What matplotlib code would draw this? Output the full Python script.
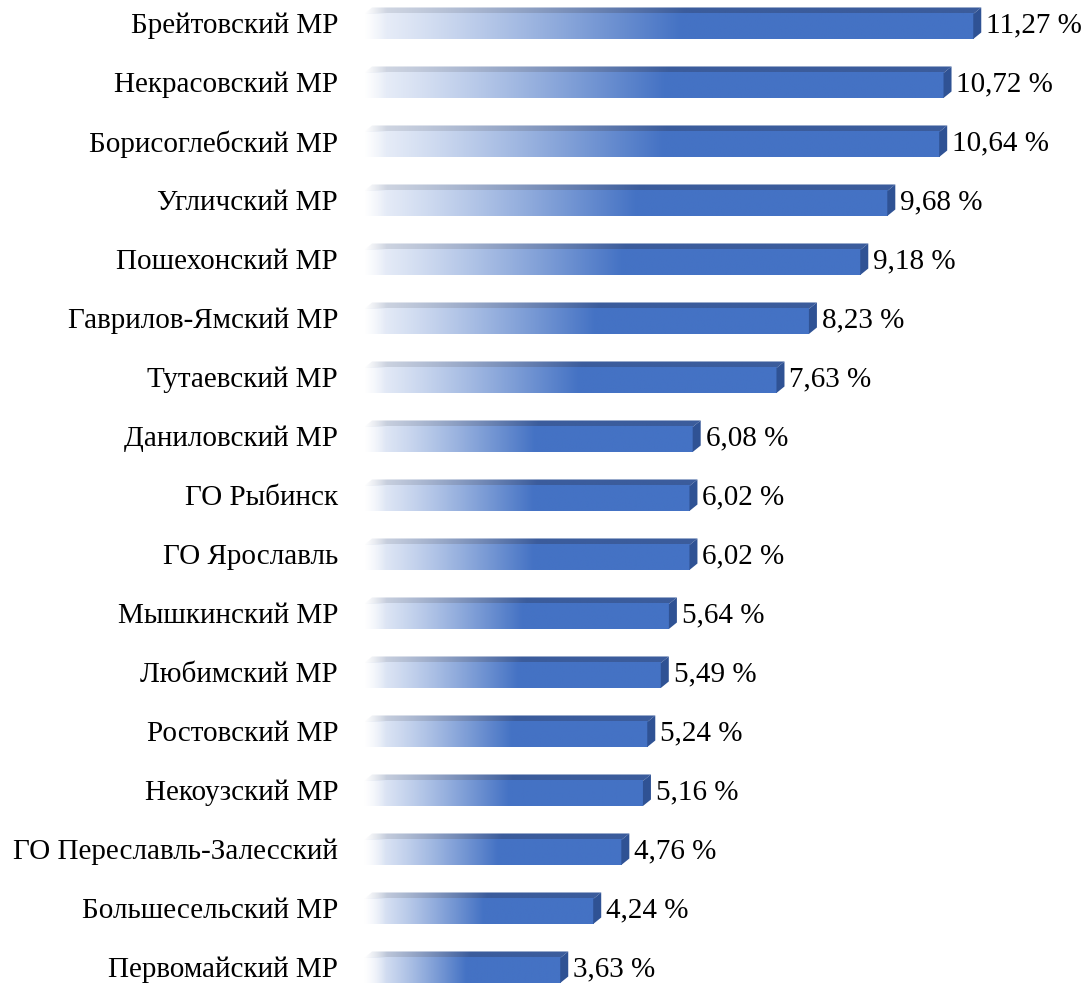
import numpy as np
import matplotlib.pyplot as plt
from matplotlib.patches import Polygon
from matplotlib.colors import to_rgb

categories = [
    'Брейтовский МР', 'Некрасовский МР', 'Борисоглебский МР', 'Угличский МР',
    'Пошехонский МР', 'Гаврилов-Ямский МР', 'Тутаевский МР', 'Даниловский МР',
    'ГО Рыбинск', 'ГО Ярославль', 'Мышкинский МР', 'Любимский МР',
    'Ростовский МР', 'Некоузский МР', 'ГО Переславль-Залесский',
    'Большесельский МР', 'Первомайский МР',
]
values = [11.27, 10.72, 10.64, 9.68, 9.18, 8.23, 7.63, 6.08, 6.02, 6.02,
          5.64, 5.49, 5.24, 5.16, 4.76, 4.24, 3.63]

plt.rcParams['font.family'] = ['Liberation Serif', 'DejaVu Serif']

# bar geometry (data units)
front_top, front_bot = -0.17, 0.254
dx, dy = 0.148, 0.11
fade = 0.4

light = np.array(to_rgb('#eef2fa'))
blue = np.array(to_rgb('#4472c4'))
top_light = np.array(to_rgb('#d6dbe5'))
top_dark = np.array(to_rgb('#3b5c9c'))
side_col = '#2f5294'


def grad(v, c0, c1, n=300):
    xs = np.linspace(0, v, n)
    f = np.clip(xs / (0.52 * v), 0, 1) ** 1.15
    f = f[:, None]
    rgb = c0 * (1 - f) + c1 * f
    a = np.clip(xs / fade, 0, 1)[:, None]
    return np.concatenate([rgb, a], axis=1)[None, :, :]


fig = plt.figure(figsize=(10.91, 9.88), dpi=100)
x0 = 364 / 1091
ax = fig.add_axes([x0, 0, 1 - x0, 1])
ax.axis('off')

for i, (name, v) in enumerate(zip(categories, values)):
    t, b = i + front_top, i + front_bot
    # top face
    top_poly = Polygon([(0, t), (v, t), (v + dx, t - dy), (dx, t - dy)],
                       closed=True, facecolor='none', edgecolor='none')
    ax.add_patch(top_poly)
    im = ax.imshow(grad(v, top_light, top_dark), extent=(0, v + dx, t, t - dy),
                   aspect='auto', interpolation='bilinear', zorder=2)
    im.set_clip_path(top_poly)
    # front face
    ax.imshow(grad(v, light, blue), extent=(0, v, b, t),
              aspect='auto', interpolation='bilinear', zorder=3)
    # side face
    ax.add_patch(Polygon([(v, t), (v + dx, t - dy), (v + dx, b - dy), (v, b)],
                         closed=True, facecolor=side_col, edgecolor='none', zorder=3))
    # labels
    ax.text(-0.48, i + 0.03, name, ha='right', va='center', fontsize=21,
            color='black', clip_on=False)
    ax.text(v + dx + 0.09, i + 0.03, f'{v:.2f}'.replace('.', ',') + ' %',
            ha='left', va='center', fontsize=21, color='black')

ax.set_xlim(0, 727 / 54.06)
ax.set_ylim((988 - 24) / 59, -24 / 59)
fig.savefig('out.png', dpi=100)
